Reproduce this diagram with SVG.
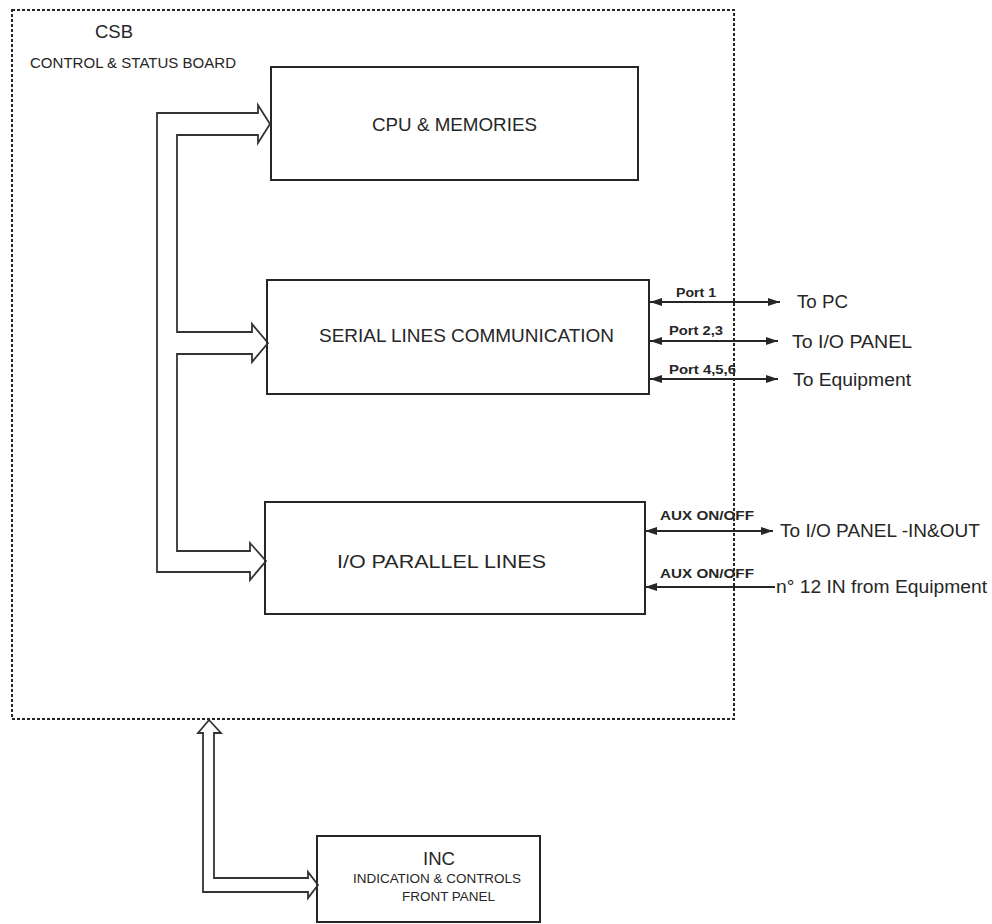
<svg xmlns="http://www.w3.org/2000/svg" width="992" height="924" viewBox="0 0 992 924">
<defs>
<style>
.box{fill:none;stroke:#262626;stroke-width:2}
.bus{fill:none;stroke:#333;stroke-width:1.8;stroke-linejoin:miter}
.wire{fill:none;stroke:#262626;stroke-width:1.8}
.dash{fill:none;stroke:#262626;stroke-width:2;stroke-dasharray:3 2}
text{font-family:"Liberation Sans",Arial,sans-serif;fill:#262626}
.big{font-size:18px}
.sm{font-size:12.5px}
.lab{font-size:13px;font-weight:bold}
</style>
<marker id="ah" viewBox="0 0 12 8" refX="12" refY="4" markerWidth="12" markerHeight="8" markerUnits="userSpaceOnUse" orient="auto-start-reverse">
<path d="M0,0 L12,4 L0,8 z" fill="#262626"/>
</marker>
</defs>
<rect width="992" height="924" fill="#fff"/>

<g id="csb">
<rect class="dash" x="12" y="10" width="722" height="709"/>
<text x="95" y="38" style="font-size:18.5px">CSB</text>
<text x="30" y="68" style="font-size:14.5px" textLength="206" lengthAdjust="spacingAndGlyphs">CONTROL &amp; STATUS BOARD</text>
</g>

<g id="cpu">
<rect class="box" x="271" y="67" width="367" height="113"/>
<text class="big" x="372" y="131" textLength="165" lengthAdjust="spacingAndGlyphs">CPU &amp; MEMORIES</text>
</g>

<g id="serial">
<rect class="box" x="267" y="280" width="382" height="114"/>
<text class="big" x="319" y="342" textLength="295" lengthAdjust="spacingAndGlyphs">SERIAL LINES COMMUNICATION</text>
</g>

<g id="io">
<rect class="box" x="265" y="502" width="380" height="112"/>
<text class="big" x="337" y="568" textLength="209" lengthAdjust="spacingAndGlyphs">I/O PARALLEL LINES</text>
</g>

<g id="inc">
<rect class="box" x="317" y="836" width="223" height="86"/>
<text x="423" y="865" style="font-size:18px" textLength="32" lengthAdjust="spacingAndGlyphs">INC</text>
<text class="sm" x="353" y="883" textLength="168" lengthAdjust="spacingAndGlyphs">INDICATION &amp; CONTROLS</text>
<text class="sm" x="402" y="901" textLength="93" lengthAdjust="spacingAndGlyphs">FRONT PANEL</text>
</g>

<g id="connectors">
<path class="bus" d="M258,113 L157,113 L157,572 L250,572 L250,580 L266,561 L250,543 L250,551 L177,551 L177,354 L252,354 L252,362 L268,343 L252,324 L252,332 L177,332 L177,135 L258,135 L258,143 L270,124 L258,105 Z"/>
<path class="bus" d="M203,892 L308,892 L308,898 L318,885 L308,872 L308,878 L214,878 L214,733 L221,733 L209,720 L198,733 L203,733 Z"/>
<line class="wire" x1="650" y1="302" x2="780" y2="302" marker-start="url(#ah)" marker-end="url(#ah)"/>
<line class="wire" x1="650" y1="341" x2="778" y2="341" marker-start="url(#ah)" marker-end="url(#ah)"/>
<line class="wire" x1="650" y1="379" x2="778" y2="379" marker-start="url(#ah)" marker-end="url(#ah)"/>
<line class="wire" x1="645" y1="531" x2="773" y2="531" marker-start="url(#ah)" marker-end="url(#ah)"/>
<line class="wire" x1="645" y1="587" x2="775" y2="587" marker-start="url(#ah)"/>
<text class="lab" x="676" y="297" textLength="40" lengthAdjust="spacingAndGlyphs">Port 1</text>
<text class="lab" x="669" y="335" textLength="54" lengthAdjust="spacingAndGlyphs">Port 2,3</text>
<text class="lab" x="669" y="374" textLength="67" lengthAdjust="spacingAndGlyphs">Port 4,5,6</text>
<text class="lab" x="660" y="520" textLength="94" lengthAdjust="spacingAndGlyphs">AUX ON/OFF</text>
<text class="lab" x="660" y="578" textLength="94" lengthAdjust="spacingAndGlyphs">AUX ON/OFF</text>
<text class="big" x="797" y="308" textLength="51" lengthAdjust="spacingAndGlyphs">To PC</text>
<text class="big" x="792" y="348" textLength="120" lengthAdjust="spacingAndGlyphs">To I/O PANEL</text>
<text class="big" x="793" y="386" textLength="118" lengthAdjust="spacingAndGlyphs">To Equipment</text>
<text class="big" x="780" y="537" textLength="200" lengthAdjust="spacingAndGlyphs">To I/O PANEL -IN&amp;OUT</text>
<text class="big" x="776" y="593" textLength="211" lengthAdjust="spacingAndGlyphs">n° 12 IN from Equipment</text>
</g>
</svg>
